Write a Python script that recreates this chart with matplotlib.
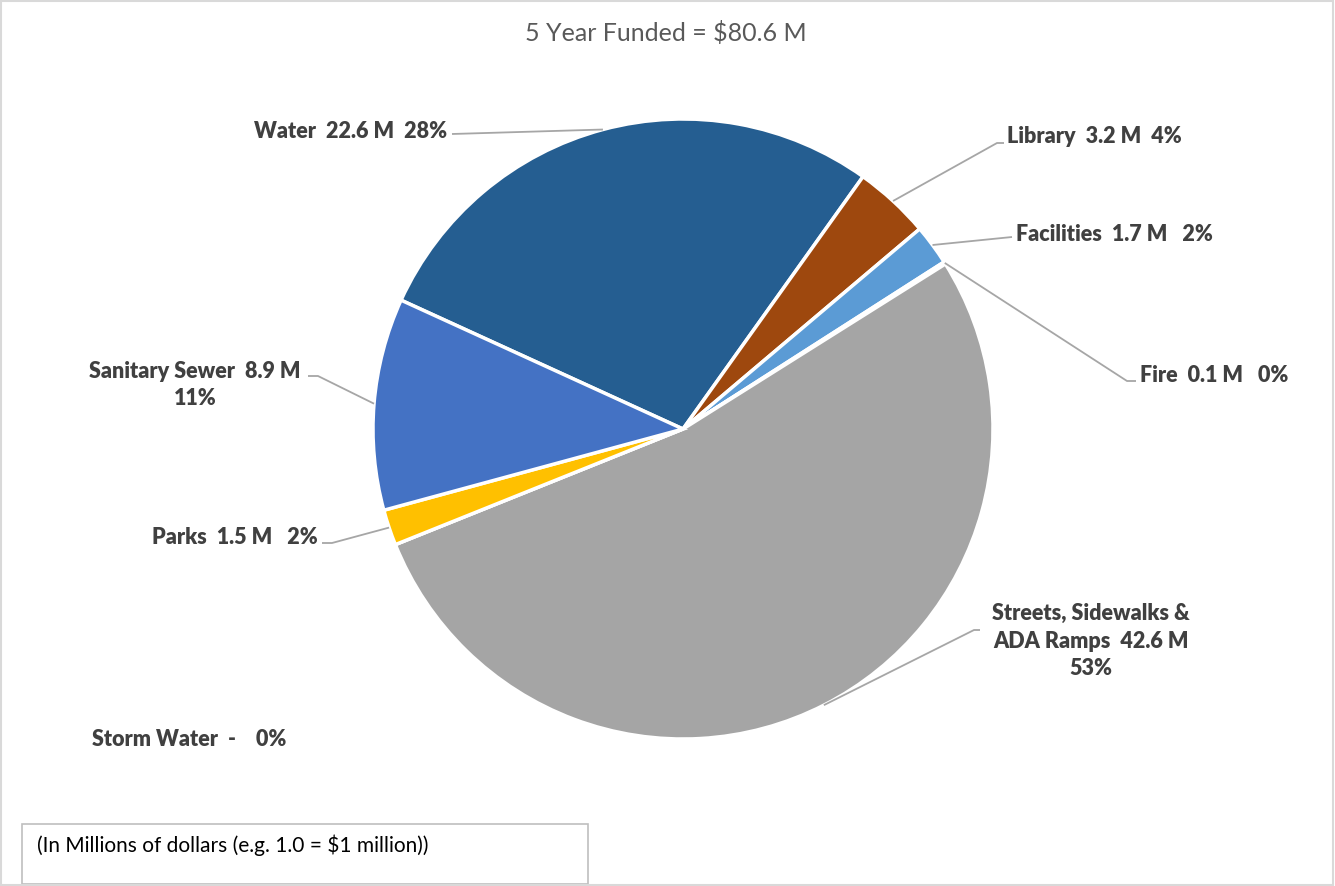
import numpy as np
import matplotlib
matplotlib.use('Agg')
import matplotlib.pyplot as plt
from matplotlib.patches import Rectangle

# Five year funded capital projects, in millions of dollars
categories = ['Water', 'Library', 'Facilities', 'Fire', 'Streets', 'Storm Water', 'Parks', 'Sanitary Sewer']
amounts = [22.6, 3.2, 1.7, 0.1, 42.6, 0.0, 1.5, 8.9]
amount_text = ['22.6 M', '3.2 M', '1.7 M', '0.1 M', '42.6 M', '-', '1.5 M', '8.9 M']
colors = ['#255E91', '#9E480E', '#5B9BD5', '#70AD47', '#A5A5A5', '#ED7D31', '#FFC000', '#4472C4']
total = sum(amounts)

plt.rcParams['font.family'] = ['Lato', 'DejaVu Sans']
textColor = '#404040'
lineColor = '#A6A6A6'

W, H = 1335, 886
figure = plt.figure(figsize=(W / 100, H / 100), dpi=100)
axis = figure.add_axes([0, 0, 1, 1])

cx, cy, radius = 683, H - 429, 310
waterStart = 294.56  # degrees clockwise from 12 o'clock

wedges, _ = axis.pie(amounts, colors=colors, center=(cx, cy), radius=radius,
                     startangle=90 - waterStart, counterclock=False, normalize=True,
                     wedgeprops=dict(edgecolor='white', linewidth=2.5), frame=True)
axis.set_xlim(0, W)
axis.set_ylim(0, H)
axis.set_aspect('equal')
axis.axis('off')

def pct(v):
    return '%d%%' % round(100 * v / total)

# label anchor, alignment and leader elbow points going out from the pie (pixel coords, y down)
layout = {
    'Water':          dict(pos=(447, 131), ha='right', path=[(452, 134)]),
    'Library':        dict(pos=(1007, 136), ha='left', path=[(997, 143), (1004, 143)]),
    'Facilities':     dict(pos=(1016, 234), ha='left', path=[(1012, 237)]),
    'Fire':           dict(pos=(1140, 375), ha='left', path=[(1127, 381), (1136, 381)]),
    'Streets':        dict(pos=(1091, 641), ha='center', path=[(974, 630), (980, 630)]),
    'Storm Water':    dict(pos=(92, 739), ha='left', path=None),
    'Parks':          dict(pos=(318, 537), ha='right', path=[(332, 543), (322, 543)]),
    'Sanitary Sewer': dict(pos=(195, 385), ha='center', path=[(318, 376), (308, 376)]),
}

for i, key in enumerate(categories):
    item = layout[key]
    if key == 'Streets':
        label = 'Streets, Sidewalks &\nADA Ramps  %s\n%s' % (amount_text[i], pct(amounts[i]))
    elif key == 'Sanitary Sewer':
        label = 'Sanitary Sewer  %s\n%s' % (amount_text[i], pct(amounts[i]))
    elif key in ('Water', 'Library'):
        label = '%s  %s  %s' % (key, amount_text[i], pct(amounts[i]))
    elif key == 'Storm Water':
        label = '%s  %s    %s' % (key, amount_text[i], pct(amounts[i]))
    else:
        label = '%s  %s   %s' % (key, amount_text[i], pct(amounts[i]))
    x, y = item['pos']
    axis.text(x, H - y, label, ha=item['ha'], va='center', fontsize=15.5,
              fontweight='heavy', color=textColor, linespacing=1.4)

    if item['path'] is not None:
        wedge = wedges[i]
        mid = np.radians((wedge.theta1 + wedge.theta2) / 2)
        pts = [(cx + radius * np.cos(mid), cy + radius * np.sin(mid))]
        pts += [(p[0], H - p[1]) for p in item['path']]
        axis.plot([p[0] for p in pts], [p[1] for p in pts], color=lineColor, lw=1.3,
                  solid_capstyle='butt', zorder=1)

axis.text(666, H - 33, '5 Year Funded = $80.6 M', ha='center', va='center',
          fontsize=18, color='#595959')

# units note box
axis.add_patch(Rectangle((22, H - 884), 566, 60, facecolor='white', edgecolor='#BFBFBF', lw=1.2))
axis.text(37, H - 845, '(In Millions of dollars (e.g. 1.0 = $1 million))', ha='left',
          va='center', fontsize=15, color='black')

# chart area border
axis.add_patch(Rectangle((1, 1), W - 3, H - 2, facecolor='none', edgecolor='#D9D9D9', lw=1.5))

figure.savefig('out.png', dpi=100)
